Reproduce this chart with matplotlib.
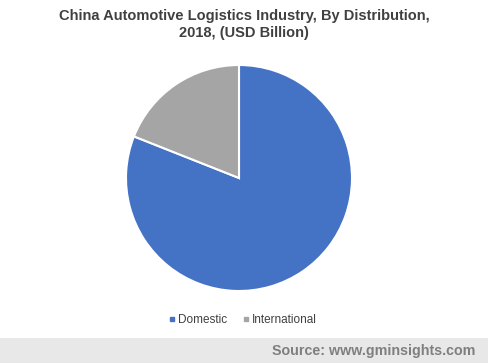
import matplotlib
matplotlib.use('Agg')
import matplotlib.pyplot as plt
from matplotlib.patches import Rectangle
from matplotlib.lines import Line2D

# data
labels = ['Domestic', 'International']
values = [81, 19]
colors = ['#4472c4', '#a5a5a5']

title = 'China Automotive Logistics Industry, By Distribution,\n2018, (USD Billion)'
source = 'Source: www.gminsights.com'

plt.rcParams['font.family'] = ['Liberation Sans', 'DejaVu Sans']

fig = plt.figure(figsize=(4.88, 3.63), dpi=100)
fig.patch.set_facecolor('white')

# footer band
fig.patches.append(Rectangle((0, 0), 1, 25 / 363, transform=fig.transFigure,
                             facecolor='#e8e8e8', edgecolor='none', zorder=0))
fig.text(475 / 488, 12 / 363, source, ha='right', va='center',
         fontsize=10.3, fontweight='bold', color='#7f7f7f')

fig.text(244 / 488, 1 - 24.5 / 363, title, ha='center', va='center',
         fontsize=10.5, fontweight='bold', color='#404040', linespacing=1.3)

# pie: center (239,178), radius ~113 px
r = 113
ax = fig.add_axes([(239 - r) / 488, (363 - 178 - r) / 363, 2 * r / 488, 2 * r / 363])
ax.pie(values, colors=colors, startangle=90, counterclock=False,
       wedgeprops=dict(edgecolor='white', linewidth=1.5))
ax.set_xlim(-1, 1)
ax.set_ylim(-1, 1)
ax.set_aspect('equal')

handles = [Line2D([], [], marker='s', linestyle='none', markersize=3.5,
                  markerfacecolor=c, markeredgecolor=c) for c in colors]
fig.legend(handles, labels, loc='center', bbox_to_anchor=(242 / 488, 1 - 320 / 363),
           ncol=2, frameon=False, fontsize=8.5, handletextpad=0.1,
           columnspacing=1.2, labelcolor='#404040', handlelength=0.8)

fig.savefig('out.png', dpi=100)
